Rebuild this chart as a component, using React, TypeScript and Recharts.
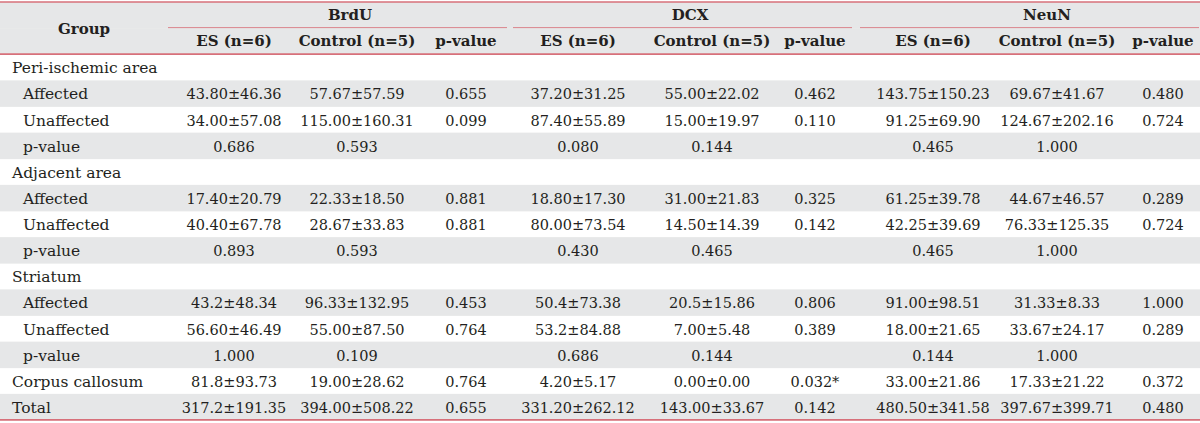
import { BarChart, Bar, XAxis, YAxis } from "recharts";

// row labels of the body (first column)
const rowLabels = [
  "Peri-ischemic area", "Affected", "Unaffected", "p-value",
  "Adjacent area", "Affected", "Unaffected", "p-value",
  "Striatum", "Affected", "Unaffected", "p-value",
  "Corpus callosum", "Total",
];
const indented = [false, true, true, true, false, true, true, true, false, true, true, true, false, false];

const groupNames = ["BrdU", "DCX", "NeuN"];
const subHeaders = ["ES (n=6)", "Control (n=5)", "p-value"];

const brduEs = ["", "43.80±46.36", "34.00±57.08", "0.686", "", "17.40±20.79", "40.40±67.78", "0.893", "", "43.2±48.34", "56.60±46.49", "1.000", "81.8±93.73", "317.2±191.35"];
const brduCtrl = ["", "57.67±57.59", "115.00±160.31", "0.593", "", "22.33±18.50", "28.67±33.83", "0.593", "", "96.33±132.95", "55.00±87.50", "0.109", "19.00±28.62", "394.00±508.22"];
const brduP = ["", "0.655", "0.099", "", "", "0.881", "0.881", "", "", "0.453", "0.764", "", "0.764", "0.655"];
const dcxEs = ["", "37.20±31.25", "87.40±55.89", "0.080", "", "18.80±17.30", "80.00±73.54", "0.430", "", "50.4±73.38", "53.2±84.88", "0.686", "4.20±5.17", "331.20±262.12"];
const dcxCtrl = ["", "55.00±22.02", "15.00±19.97", "0.144", "", "31.00±21.83", "14.50±14.39", "0.465", "", "20.5±15.86", "7.00±5.48", "0.144", "0.00±0.00", "143.00±33.67"];
const dcxP = ["", "0.462", "0.110", "", "", "0.325", "0.142", "", "", "0.806", "0.389", "", "0.032*", "0.142"];
const neunEs = ["", "143.75±150.23", "91.25±69.90", "0.465", "", "61.25±39.78", "42.25±39.69", "0.465", "", "91.00±98.51", "18.00±21.65", "0.144", "33.00±21.86", "480.50±341.58"];
const neunCtrl = ["", "69.67±41.67", "124.67±202.16", "1.000", "", "44.67±46.57", "76.33±125.35", "1.000", "", "31.33±8.33", "33.67±24.17", "1.000", "17.33±21.22", "397.67±399.71"];
const neunP = ["", "0.480", "0.724", "", "", "0.289", "0.724", "", "", "1.000", "0.289", "", "0.372", "0.480"];

// layout (x positions on the 0..1200 axis)
const COL_X = [234, 357, 466, 578, 712, 815, 933, 1057, 1163];
const GROUP_SPAN = [[168, 507], [513, 852], [860, 1199]];
const GROUP_X = [350, 690, 1047];
const FULL = 1200;

const FONT = "'DejaVu Serif', serif";
const INK = "#231f20";
const SHADE = "#e6e7e8";
const RULE = "#d7707a";
const FS = 14.5;
const FS_LABEL = 15.5;

type Row = {
  key: string;
  kind: "group" | "sub" | "body";
  label: string;
  indent: boolean;
  cells: string[];
  shaded: boolean;
};

const columns = [brduEs, brduCtrl, brduP, dcxEs, dcxCtrl, dcxP, neunEs, neunCtrl, neunP];

const rows: Row[] = [
  { key: "h1", kind: "group", label: "Group", indent: false, cells: [], shaded: true },
  { key: "h2", kind: "sub", label: "", indent: false, cells: [...subHeaders, ...subHeaders, ...subHeaders], shaded: true },
  ...rowLabels.map((label, i) => ({
    key: `r${i}`,
    kind: "body" as const,
    label,
    indent: indented[i],
    cells: columns.map((c) => c[i]),
    shaded: i % 2 === 1,
  })),
];

const sx = (p: any, v: number) => p.x + (v / FULL) * p.width;

const rowShape = (p: any) => {
  const r: Row = p.payload;
  const bottom = p.y + p.height;
  return (
    <g>
      {r.shaded && <rect x={p.x} y={p.y} width={p.width} height={p.height + 0.5} fill={SHADE} />}
      {r.kind === "group" && (
        <>
          <line x1={p.x} x2={p.x + p.width} y1={p.y} y2={p.y} stroke={RULE} strokeWidth={1.6} />
          {GROUP_SPAN.map(([a, b], g) => (
            <line key={g} x1={sx(p, a)} x2={sx(p, b)} y1={bottom} y2={bottom} stroke={RULE} strokeWidth={1.6} />
          ))}
          {groupNames.map((n, g) => (
            <text key={n} x={sx(p, GROUP_X[g])} y={p.y + p.height / 2} textAnchor="middle" dominantBaseline="central"
              fontFamily={FONT} fontSize={FS + 0.5} fontWeight={700} fill={INK}>{n}</text>
          ))}
        </>
      )}
      {(r.kind === "sub" || r.key === "r13") && (
        <line x1={p.x} x2={p.x + p.width} y1={bottom} y2={bottom} stroke={RULE} strokeWidth={1.6} />
      )}
    </g>
  );
};

const labelShape = (p: any) => {
  const r: Row = p.payload;
  if (!r.label) return <g />;
  const head = r.kind === "group";
  return (
    <text x={p.x + p.width} y={head ? p.y + p.height + 1 : p.y + p.height / 2 + 1}
      textAnchor={head ? "middle" : "start"} dominantBaseline="central"
      fontFamily={FONT} fontSize={head ? FS + 0.5 : FS_LABEL} fontWeight={head ? 700 : 400} fill={INK}>{r.label}</text>
  );
};

const cellShape = (i: number) => (p: any) => {
  const r: Row = p.payload;
  const t = r.cells[i];
  if (!t) return <g />;
  const head = r.kind === "sub";
  return (
    <text x={p.x + p.width} y={p.y + p.height / 2 + (head ? -0.5 : 1)} textAnchor="middle" dominantBaseline="central"
      fontFamily={FONT} fontSize={head ? FS + 0.5 : FS} fontWeight={head ? 700 : 400} fill={INK}>{t}</text>
  );
};

export default function App() {
  return (
    <div style={{ width: 1200, height: 423 }}>
      <style>{"body{margin:0}"}</style>
      <BarChart
        width={1200}
        height={423}
        data={rows}
        layout="vertical"
        margin={{ top: 2, right: 0, bottom: 3, left: 0 }}
        barSize={26}
        barGap={-26}
        barCategoryGap={0}
      >
        <XAxis type="number" domain={[0, FULL]} hide />
        <YAxis type="category" dataKey="key" hide />
        <Bar dataKey={() => FULL} shape={rowShape} isAnimationActive={false} />
        <Bar dataKey={(r: Row) => (r.kind === "group" ? 84 : r.indent ? 23 : 12)} shape={labelShape} isAnimationActive={false} />
        {COL_X.map((cx, i) => (
          <Bar key={i} dataKey={() => cx} shape={cellShape(i)} isAnimationActive={false} />
        ))}
      </BarChart>
    </div>
  );
}
